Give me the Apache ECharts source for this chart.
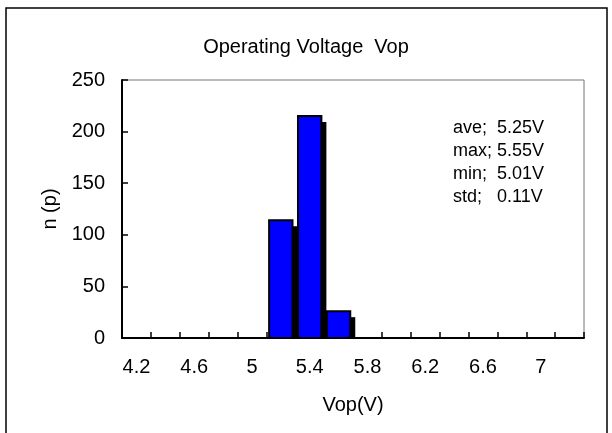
<!DOCTYPE html>
<html>
<head>
<meta charset="utf-8">
<script src="https://cdn.jsdelivr.net/npm/echarts@6/dist/echarts.min.js"></script>
<style>
* { margin: 0; padding: 0; }
body { background: #fff; }
#main { width: 612px; height: 433px; }
</style>
</head>
<body>
<div id="main"></div>
<script>
// bins of Vop (V) and counts per bin
var bins = ['4.2', '4.4', '4.6', '4.8', '5', '5.2', '5.4', '5.6', '5.8', '6', '6.2', '6.4', '6.6', '6.8', '7', '7.2']
var counts = [0, 0, 0, 0, 0, 114, 215, 26, 0, 0, 0, 0, 0, 0, 0, 0]
var yTicks = [0, 50, 100, 150, 200, 250]
var statNames = ['ave;', 'max;', 'min;', 'std;']
var statValues = ['5.25V', '5.55V', '5.01V', '0.11V']

var font = 'Liberation Sans, Arial, sans-serif'

// bar + offset black shadow, built from the axis scales
function drawBar(params, api) {
  var idx = api.value(0)
  var top = api.coord([idx, api.value(1)])
  var base = api.coord([idx, 0])
  var w = api.size([1, 0])[0] * 0.81
  var x = top[0] - w / 2
  var h = base[1] - top[1]
  return {
    type: 'group',
    children: [
      {
        type: 'rect',
        shape: { x: x + 5, y: top[1] + 6, width: w, height: Math.max(h - 6, 0) },
        style: { fill: '#000' }
      },
      {
        type: 'rect',
        shape: { x: x, y: top[1], width: w, height: h },
        style: { fill: '#0000ff', stroke: '#000', lineWidth: 2 }
      }
    ]
  }
}

var barData = []
counts.forEach(function (v, i) {
  if (v > 0) barData.push([i, v])
})

var chart = echarts.init(document.getElementById('main'))
chart.setOption({
  animation: false,
  title: {
    text: 'Operating Voltage  Vop',
    left: 'center',
    top: 32,
    textStyle: { fontFamily: font, fontSize: 20, fontWeight: 'normal', color: '#000' }
  },
  grid: {
    left: 122,
    right: 28,
    top: 80,
    bottom: 95,
    show: true,
    borderColor: '#777',
    borderWidth: 1
  },
  xAxis: {
    type: 'category',
    data: bins,
    name: 'Vop(V)',
    nameLocation: 'middle',
    nameGap: 57,
    nameTextStyle: { fontFamily: font, fontSize: 20, color: '#000' },
    axisLine: { lineStyle: { color: '#000', width: 2 } },
    axisTick: { show: true, inside: true, length: 6, interval: 0, lineStyle: { color: '#000', width: 1.5 } },
    axisLabel: { interval: 1, margin: 19, fontFamily: font, fontSize: 20, color: '#000' }
  },
  yAxis: {
    type: 'value',
    min: yTicks[0],
    max: yTicks[yTicks.length - 1],
    interval: 50,
    name: 'n (p)',
    nameLocation: 'middle',
    nameGap: 61,
    nameTextStyle: { fontFamily: font, fontSize: 20, color: '#000' },
    splitLine: { show: false },
    axisLine: { show: true, lineStyle: { color: '#000', width: 2 } },
    axisTick: { show: true, inside: true, length: 6, lineStyle: { color: '#000', width: 1.5 } },
    axisLabel: { margin: 17, fontFamily: font, fontSize: 20, color: '#000' }
  },
  series: [
    {
      type: 'custom',
      renderItem: drawBar,
      encode: { x: 0, y: 1 },
      data: barData,
      z: 3
    }
  ],
  graphic: [
    {
      type: 'rect',
      shape: { x: 6, y: 8, width: 601, height: 440 },
      style: { fill: 'none', stroke: '#000', lineWidth: 1.5 },
      silent: true
    },
    {
      type: 'text',
      left: 453,
      top: 117,
      style: { text: statNames.join('\n'), font: '18px ' + font, lineHeight: 23, fill: '#000' }
    },
    {
      type: 'text',
      left: 497,
      top: 117,
      style: { text: statValues.join('\n'), font: '18px ' + font, lineHeight: 23, fill: '#000' }
    }
  ]
})
</script>
</body>
</html>
